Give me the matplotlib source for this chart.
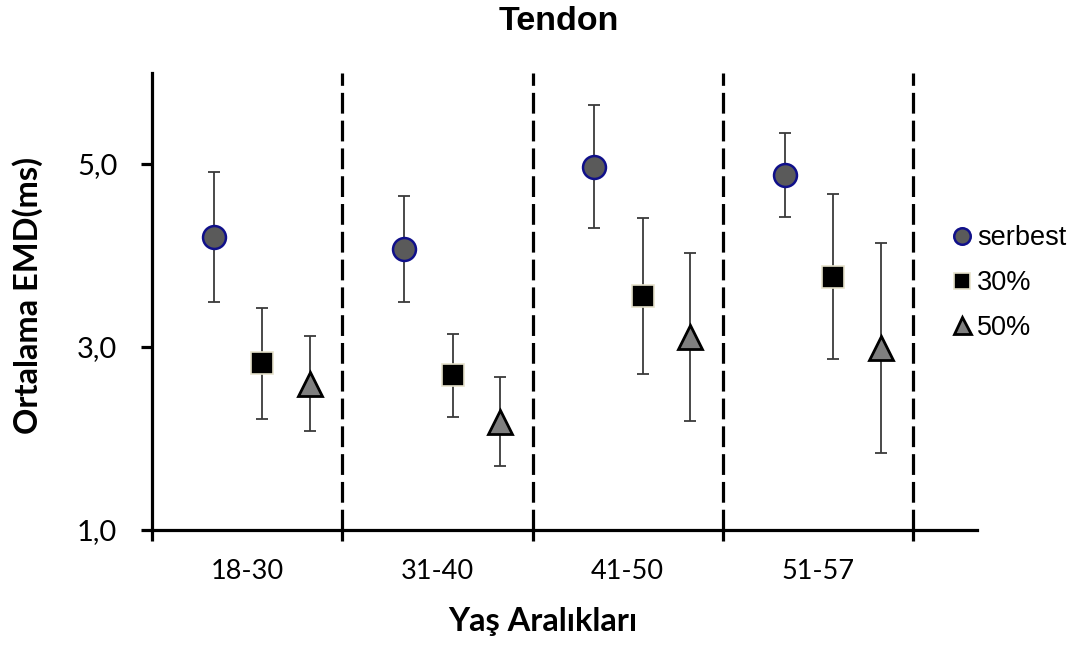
import matplotlib
matplotlib.use("Agg")
import matplotlib.pyplot as plt
import numpy as np
from matplotlib.ticker import FixedLocator, NullFormatter

categories = ["18-30", "31-40", "41-50", "51-57"]
serbest = [4.20, 4.07, 4.97, 4.88]
serbest_err = [0.71, 0.58, 0.67, 0.455]
p30 = [2.82, 2.69, 3.56, 3.77]
p30_err = [0.61, 0.455, 0.85, 0.905]
p50 = [2.60, 2.185, 3.11, 2.99]
p50_err = [0.52, 0.485, 0.92, 1.15]
series_names = ["serbest", "30%", "50%"]
yticks = [1.0, 3.0, 5.0]
ytick_labels = ["1,0", "3,0", "5,0"]

W, H = 1079, 646
fig = plt.figure(figsize=(W / 100, H / 100), dpi=100)
ax = fig.add_axes([152 / W, 1 - 530 / H, (977 - 152) / W, (530 - 72.5) / H])

x = np.arange(len(categories))
offsets = [-0.175, 0.08, 0.33]
styles = [
    dict(marker="o", ms=16.5, mfc="#5a5a5a", mec="#10108a", mew=1.8),
    dict(marker="s", ms=15.5, mfc="#000000", mec="#e6e2cc", mew=1.2),
    dict(marker="^", ms=17, mfc="#7f7f7f", mec="#000000", mew=2.0),
]
data = [(serbest, serbest_err), (p30, p30_err), (p50, p50_err)]

# dashed separators
for b in np.arange(len(categories)) + 0.5:
    ax.plot([b, b], [1.0, 6.0], color="black", lw=2.3, ls=(0, (6.5, 2.2)),
            solid_capstyle="butt", dash_capstyle="butt", zorder=1, clip_on=False)

handles = []
for (vals, errs), off, st, name in zip(data, offsets, styles, series_names):
    ax.errorbar(x + off, vals, yerr=errs, fmt="none", ecolor="#3a3a3a",
                elinewidth=1.3, capsize=4, capthick=1.3, zorder=2)
    h, = ax.plot(x + off, vals, ls="none", label=name, zorder=3, **st)
    handles.append(h)

ax.set_xlim(-0.5, 3.836)
ax.set_ylim(1.0, 6.0)

for s in ["top", "right"]:
    ax.spines[s].set_visible(False)
for s in ["left", "bottom"]:
    ax.spines[s].set_linewidth(2.3)
ax.spines["left"].set_bounds(1.0, 6.0)

ax.set_yticks(yticks)
ax.set_yticklabels(ytick_labels, fontfamily="Lato", fontsize=21)
ax.tick_params(axis="y", direction="out", length=8, width=2.3, pad=17)

ax.xaxis.set_major_locator(FixedLocator(np.arange(len(categories) + 1) - 0.5))
ax.xaxis.set_major_formatter(NullFormatter())
ax.xaxis.set_minor_locator(FixedLocator(x))
ax.set_xticklabels(categories, minor=True, fontfamily="Lato", fontsize=19.5)
ax.tick_params(axis="x", which="major", direction="out", length=8, width=2.3)
ax.tick_params(axis="x", which="minor", length=0, pad=21)

fig.text(559 / W, 1 - 22 / H, "Tendon", ha="center", va="center",
         fontfamily="Liberation Sans", fontweight="bold", fontsize=24.5)
fig.text(543 / W, 1 - 622 / H, "Yaş Aralıkları", ha="center", va="center",
         fontfamily="Lato", fontweight="bold", fontsize=23.5)
fig.text(28 / W, 1 - 295 / H, "Ortalama EMD(ms)", ha="center", va="center",
         rotation=90, fontfamily="Lato", fontweight="bold", fontsize=23.5)

leg = ax.legend(handles=handles, loc="center left",
                bbox_to_anchor=(954 / W, 1 - 283 / H), bbox_transform=fig.transFigure,
                frameon=False, markerscale=0.72, handlelength=0.6, handletextpad=0.25,
                labelspacing=0.7, borderpad=0, borderaxespad=0,
                prop=dict(family="Liberation Sans", size=19.5))

fig.savefig("out.png", dpi=100)
